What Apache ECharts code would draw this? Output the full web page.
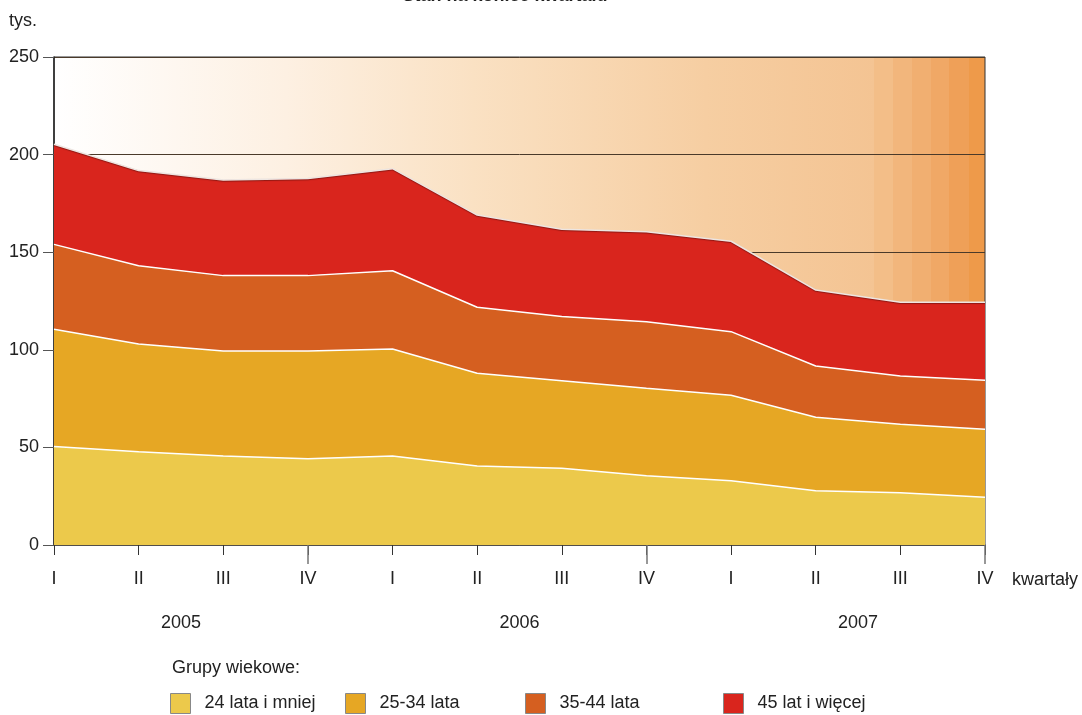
<!DOCTYPE html>
<html>
<head>
<meta charset="utf-8">
<script src="https://cdn.jsdelivr.net/npm/echarts@6/dist/echarts.min.js"></script>
<style>
  html, body { margin: 0; padding: 0; background: #fff; }
  #chart { width: 1082px; height: 715px; }
</style>
</head>
<body>
<div id="chart"></div>
<script>
const quarters = ['I', 'II', 'III', 'IV', 'I', 'II', 'III', 'IV', 'I', 'II', 'III', 'IV']
const years = ['2005', '2006', '2007']
const yTicks = [0, 50, 100, 150, 200, 250]

const age24 = [50.4, 47.8, 45.6, 44.2, 45.6, 40.5, 39.3, 35.5, 32.9, 27.8, 26.8, 24.4]
const age25_34 = [60.1, 55.2, 53.8, 55.2, 54.8, 47.5, 44.9, 44.8, 43.8, 37.6, 35.0, 34.9]
const age35_44 = [43.5, 40.1, 38.6, 38.6, 40.1, 33.8, 32.8, 34.1, 32.6, 26.3, 24.8, 25.1]
const age45 = [51.3, 48.7, 49.0, 49.8, 52.3, 47.2, 44.7, 46.1, 46.3, 38.9, 37.7, 39.9]

const names = ['24 lata i mniej', '25-34 lata', '35-44 lata', '45 lat i więcej']
const colors = ['#ECC94B', '#E6A724', '#D55F20', '#D9251D']
const font = 'Liberation Sans, Arial, sans-serif'

const chart = echarts.init(document.getElementById('chart'))

const bg = new echarts.graphic.LinearGradient(0, 0, 1, 0, [
  { offset: 0, color: '#FFFFFF' },
  { offset: 0.25, color: '#FDF0E2' },
  { offset: 0.45, color: '#FAE1C3' },
  { offset: 0.7, color: '#F6CEA2' },
  { offset: 0.88, color: '#F4C493' },
  { offset: 0.88, color: '#F3BE88' },
  { offset: 0.901, color: '#F3BE88' },
  { offset: 0.901, color: '#F2B67C' },
  { offset: 0.921, color: '#F2B67C' },
  { offset: 0.921, color: '#F1AF71' },
  { offset: 0.941, color: '#F1AF71' },
  { offset: 0.941, color: '#F0A866' },
  { offset: 0.961, color: '#F0A866' },
  { offset: 0.961, color: '#EFA058' },
  { offset: 0.982, color: '#EFA058' },
  { offset: 0.982, color: '#EE9A4A' },
  { offset: 1, color: '#EE9A4A' },
])

function makeSeries(name, data, color, top) {
  return {
    name: name,
    type: 'line',
    stack: 'total',
    data: data,
    symbol: 'none',
    itemStyle: { color: color },
    lineStyle: top
      ? { color: '#EDE6E2', width: 1.5, shadowColor: 'rgba(0,0,0,0.35)', shadowBlur: 1, shadowOffsetY: 1 }
      : { color: '#FFFFFF', width: 1.5 },
    areaStyle: { color: color, opacity: 1 },
  }
}

const legendLeft = [170, 345, 525, 723]
const legends = names.map((n, i) => ({
  data: [n],
  left: legendLeft[i],
  top: 693,
  padding: 0,
  icon: 'rect',
  itemWidth: 20,
  itemHeight: 20,
  selectedMode: false,
  itemStyle: { color: colors[i], borderColor: '#888', borderWidth: 1 },
  textStyle: { fontFamily: font, fontSize: 18, color: '#222', padding: [3, 0, 0, 9] },
}))

chart.setOption({
  animation: false,
  backgroundColor: '#fff',
  legend: legends,
  grid: {
    left: 54,
    right: 97,
    top: 57,
    bottom: 170,
    show: true,
    backgroundColor: bg,
    borderColor: '#333',
    borderWidth: 1,
    z: 0,
  },
  xAxis: [
    {
      type: 'category',
      data: quarters,
      boundaryGap: false,
      axisLine: { lineStyle: { color: '#555', width: 1.5 } },
      axisTick: { length: 10, lineStyle: { color: '#333' } },
      axisLabel: { fontFamily: font, fontSize: 18, color: '#222', margin: 25 },
      splitLine: { show: false },
    },
    {
      type: 'category',
      data: quarters,
      boundaryGap: false,
      position: 'bottom',
      axisLine: { show: false },
      axisTick: { length: 19, lineStyle: { color: '#777', width: 1.5 }, interval: (i) => i % 4 === 3 },
      axisLabel: { show: false },
      splitLine: { show: false },
    },
  ],
  yAxis: {
    type: 'value',
    min: 0,
    max: 250,
    interval: 50,
    name: 'tys.',
    nameLocation: 'end',
    nameGap: 27,
    nameTextStyle: { fontFamily: font, fontSize: 18, color: '#222', align: 'right', padding: [0, 17, 0, 0] },
    axisLine: { show: true, lineStyle: { color: '#222', width: 1.5 } },
    axisTick: { show: true, length: 11, lineStyle: { color: '#555' } },
    axisLabel: { fontFamily: font, fontSize: 18, color: '#222', margin: 15,
      formatter: (v) => (yTicks.includes(v) ? String(v) : '') },
    splitLine: { show: true, lineStyle: { color: '#4a3a2a', width: 1 } },
  },
  series: [
    makeSeries(names[0], age24, colors[0], false),
    makeSeries(names[1], age25_34, colors[1], false),
    makeSeries(names[2], age35_44, colors[2], false),
    makeSeries(names[3], age45, colors[3], true),
  ],
})

// year labels centred under each year's quarters, plus axis caption and title
const yearTexts = years.map((y, k) => {
  const a = chart.convertToPixel({ xAxisIndex: 0 }, k * 4)
  const b = chart.convertToPixel({ xAxisIndex: 0 }, k * 4 + 3)
  return {
    type: 'text',
    x: (a + b) / 2,
    y: 623,
    style: { text: y, font: '18px ' + font, fill: '#222', align: 'center', verticalAlign: 'middle' },
  }
})
const lastX = chart.convertToPixel({ xAxisIndex: 0 }, 11)

chart.setOption({
  graphic: yearTexts.concat([
    {
      type: 'text',
      x: lastX + 27,
      y: 580,
      style: { text: 'kwartały', font: '18px ' + font, fill: '#222', align: 'left', verticalAlign: 'middle' },
    },
    {
      type: 'text',
      x: 505,
      y: -4,
      style: { text: 'Stan na koniec kwartału', font: 'bold 18px ' + font, fill: '#222', align: 'center', verticalAlign: 'middle' },
    },
    {
      type: 'text',
      x: 172,
      y: 668,
      style: { text: 'Grupy wiekowe:', font: '18px ' + font, fill: '#222', align: 'left', verticalAlign: 'middle' },
    },
  ]),
})
</script>
</body>
</html>
